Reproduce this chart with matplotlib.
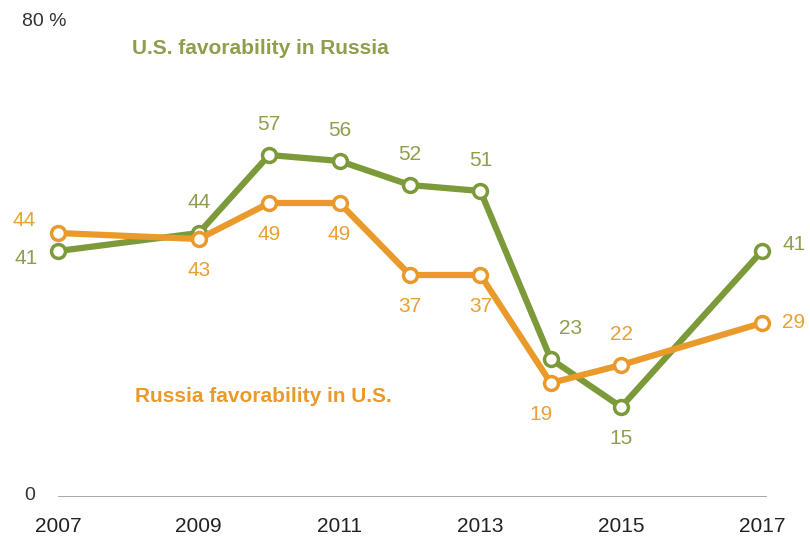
import matplotlib
matplotlib.use("Agg")
import matplotlib.pyplot as plt

years = [2007, 2009, 2010, 2011, 2012, 2013, 2014, 2015, 2017]
us_in_russia = [41, 44, 57, 56, 52, 51, 23, 15, 41]
russia_in_us = [44, 43, 49, 49, 37, 37, 19, 22, 29]
tick_years = [2007, 2009, 2011, 2013, 2015, 2017]

# label offsets (pixels) for each point
green_off = [(-32, -8), (0, 30), (0, 30), (0, 30), (0, 30), (0, 30), (20, 30), (0, -32), (32, 6)]
orange_off = [(-34, 12), (0, -32), (0, -32), (0, -32), (0, -32), (0, -32), (-10, -32), (0, 30), (32, 0)]

GREEN = "#7c9a3a"
GREEN_T = "#8d9e4c"
ORANGE = "#ea9a2b"
ORANGE_T = "#eaa035"

plt.rcParams['font.family'] = ['Liberation Sans', 'DejaVu Sans']

fig = plt.figure(figsize=(8.1, 5.4), dpi=100)
ax = fig.add_axes([37/810, 43/540, 736/810, 480/540])
ax.set_xlim(2007 - 21/70.4, 2017 + 11/70.4)
ax.set_ylim(0, 80)
ax.axis('off')

ax.axhline(0, color="#999999", lw=1.2, xmin=0.03, xmax=0.99)

for ys, c, ct, offs in [(us_in_russia, GREEN, GREEN_T, green_off), (russia_in_us, ORANGE, ORANGE_T, orange_off)]:
    ax.plot(years, ys, color=c, lw=4.5, marker='o', markersize=10, markerfacecolor='white',
            markeredgecolor=c, markeredgewidth=2.5, solid_joinstyle='miter', clip_on=False, zorder=3)
    for x, y, (dx, dy) in zip(years, ys, offs):
        ax.annotate(str(y), (x, y), xytext=(dx*0.72, dy*0.72), textcoords='offset points',
                    ha='center', va='center', fontsize=15, color=ct)

ax.text(2007 + (132-58)/70.4, 80 - (48-17)/6, "U.S. favorability in Russia", color=GREEN_T,
        fontsize=15, fontweight='bold', ha='left', va='center')
ax.text(2007 + (135-58)/70.4, 80 - (396-17)/6, "Russia favorability in U.S.", color=ORANGE,
        fontsize=15, fontweight='bold', ha='left', va='center')

fig.text(22/810, 1 - 22/540, "80 %", fontsize=14, color="#333333", ha='left', va='center')
fig.text(30/810, 1 - 496/540, "0", fontsize=14, color="#333333", ha='center', va='center')
for ty in tick_years:
    ax.annotate(str(ty), (ty, 0), xytext=(0, -21), textcoords='offset points',
                ha='center', va='center', fontsize=15, color="#222222")

fig.savefig("out.png", dpi=100, facecolor='white')
